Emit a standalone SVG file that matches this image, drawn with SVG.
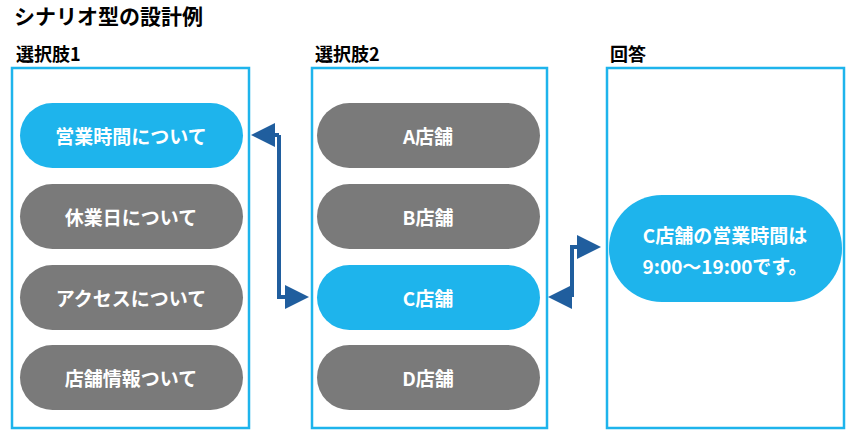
<svg xmlns="http://www.w3.org/2000/svg" width="858" height="436" viewBox="0 0 858 436">
<style>
text{font-family:"Noto Sans CJK JP","Noto Sans",sans-serif;font-weight:bold}
.panel{fill:#fff;stroke:#1eb4ec;stroke-width:2.5}
.g{fill:#7a7a7a}.b{fill:#1eb4ec}
.t{fill:#fff;font-size:19px;text-anchor:middle;dominant-baseline:central}
.h{fill:#000;font-size:18px}
.c{fill:none;stroke:#205e9e;stroke-width:4}
</style>
<defs><marker id="a" markerWidth="6" markerHeight="6" refX="5" refY="3" orient="auto" markerUnits="strokeWidth"><path d="M0,0 L6,3 L0,6 z" fill="#205e9e"/></marker></defs>
<text x="14" y="24" style="font-size:21px">シナリオ型の設計例</text>
<text class="h" x="16" y="61">選択肢1</text>
<text class="h" x="315" y="61">選択肢2</text>
<text class="h" x="610" y="61">回答</text>
<rect class="panel" x="12" y="68" width="237" height="360"/>
<rect class="panel" x="312" y="68" width="235" height="360"/>
<rect class="panel" x="607" y="68" width="237" height="360"/>
<g id="n1"><rect class="b" x="20" y="103" width="223" height="65" rx="32.5"/><text class="t" x="131" y="135">営業時間について</text></g>
<g id="n2"><rect class="g" x="20" y="184" width="223" height="65" rx="32.5"/><text class="t" x="131" y="216">休業日について</text></g>
<g id="n3"><rect class="g" x="20" y="265" width="223" height="65" rx="32.5"/><text class="t" x="131" y="297">アクセスについて</text></g>
<g id="n4"><rect class="g" x="20" y="345" width="223" height="65" rx="32.5"/><text class="t" x="131" y="377">店舗情報ついて</text></g>
<g id="m1"><rect class="g" x="317" y="103" width="223" height="65" rx="32.5"/><text class="t" x="428" y="135">A店舗</text></g>
<g id="m2"><rect class="g" x="317" y="184" width="223" height="65" rx="32.5"/><text class="t" x="428" y="216">B店舗</text></g>
<g id="m3"><rect class="b" x="317" y="265" width="223" height="65" rx="32.5"/><text class="t" x="428" y="297">C店舗</text></g>
<g id="m4"><rect class="g" x="317" y="345" width="223" height="65" rx="32.5"/><text class="t" x="428" y="377">D店舗</text></g>
<g id="r1"><rect class="b" x="609" y="195" width="233" height="107" rx="53"/><text class="t" x="725" y="234">C店舗の営業時間は</text><text class="t" x="725" y="265">9:00～19:00です。</text></g>
<g id="connectors">
<path class="c" d="M279,135 L255,135" marker-end="url(#a)"/>
<path class="c" d="M279,135 L279,297 L305,297" marker-end="url(#a)"/>
<path class="c" d="M572,297 L552,297" marker-end="url(#a)"/>
<path class="c" d="M572,297 L572,247 L597,247" marker-end="url(#a)"/>
</g>
</svg>
